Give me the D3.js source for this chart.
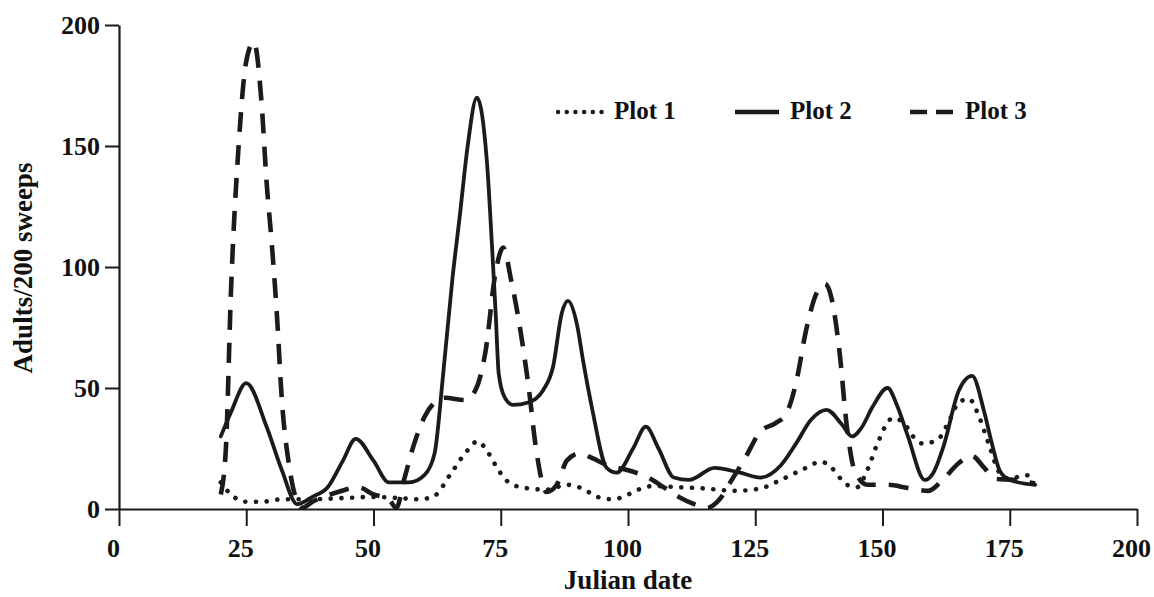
<!DOCTYPE html>
<html>
<head>
<meta charset="utf-8">
<script src="https://cdn.jsdelivr.net/npm/d3@7"></script>
<style>
  html, body { margin: 0; padding: 0; background: #fff; }
  svg { display: block; }
  text { font-family: "Liberation Serif", "Times New Roman", serif; font-weight: bold; fill: #111; }
</style>
</head>
<body>
<svg id="chart" width="1154" height="597"></svg>
<script>
// Sweep-net counts of adults per 200 sweeps, by Julian date, for three plots
const plot1Days   = [20, 22, 25, 28, 32, 36, 44, 50, 55, 59, 62, 65, 68, 70.5, 72, 74, 76, 79, 84, 88, 91, 94, 97, 99, 102, 105, 110, 115, 121, 126, 130, 134, 138, 140, 143, 145, 147, 149, 152, 154, 156, 158, 161, 163, 165, 167, 169, 171, 173, 175, 178, 180];
const plot1Values = [11, 6, 3, 3, 4, 4, 4.5, 5, 4.5, 4, 5.5, 14, 23, 28, 25, 18, 12, 9, 8, 10, 8.5, 5, 4, 5, 8, 9.5, 9, 8.5, 7.5, 8.5, 12, 16, 19.5, 17, 10, 9, 16, 27, 37.5, 36, 30, 27, 29, 36, 44, 45.5, 38, 26, 15, 12.5, 14, 13];

const plot2Days   = [20, 22, 25, 29, 32, 35, 38, 41, 44, 46.5, 50, 53, 57, 60, 62, 63.7, 65.5, 67, 68.5, 70.3, 72.3, 73.3, 74, 74.6, 75.8, 77.4, 80.4, 83.3, 85.3, 87, 88.2, 90, 91.2, 93, 95.8, 97.8, 101, 103.5, 106, 109, 112, 117, 122, 126, 130, 133, 136, 139, 142, 144, 146, 148, 151, 153, 155, 158.3, 160, 162, 165, 167.6, 170, 171.5, 173, 175, 180];
const plot2Values = [30, 40, 52, 34, 16, 2, 5, 9, 20, 29, 20, 11, 11, 14, 23, 56, 95, 122, 150, 170, 143, 108, 81, 56, 46, 43, 44, 49, 59, 81, 86, 76, 61, 41, 17, 15, 25, 34, 25, 13, 12, 17, 15, 13, 18, 27, 37, 41, 35, 30, 34, 42, 50, 42, 30, 12, 15, 26, 49, 55, 40, 27, 16, 12, 10];

const plot3Days   = [20, 21, 22, 23.5, 25, 26.5, 28, 29, 30, 31, 32, 33.5, 35, 36, 38, 43, 47, 50, 53, 54.5, 56, 58, 60, 62, 64, 68, 70, 72, 74, 75.5, 77, 79, 80.5, 82, 84, 86, 88, 90.5, 93, 96, 100, 104, 107, 110, 113, 115.5, 118, 120, 123, 126, 129, 131, 133, 135, 137, 138.7, 140, 141.5, 143, 144.5, 147, 151, 155, 159, 162, 165, 167.5, 170, 172, 176, 180];
const plot3Values = [6, 25, 90, 150, 185, 193, 168, 135, 110, 81, 45, 17, 3, 0.5, 3, 7, 9, 6, 4, 0.5, 12, 27, 38, 44, 46, 45, 49, 65, 98, 108, 95, 72, 50, 24, 7, 10, 20, 23, 21, 18, 16, 13, 9, 5, 2, 0.5, 4, 10.7, 21, 32, 35.5, 39, 52, 74, 89, 93, 87, 66, 34, 16, 10, 10, 8.7, 7.5, 12.5, 19, 22, 17, 12.5, 12, 10.5];

const xTicks = [0, 25, 50, 75, 100, 125, 150, 175, 200];
const yTicks = [0, 50, 100, 150, 200];
const seriesNames = ["Plot 1", "Plot 2", "Plot 3"];

const ink = "#1b1b1b";
const styles = [
  { width: 4.6, dash: "0.1 10.6", cap: "round" },   // dotted
  { width: 3.8, dash: null,       cap: "round" },   // solid
  { width: 4.6, dash: "20 13",    cap: "butt"  }    // dashed
];

const svg = d3.select("#chart");

const x = d3.scaleLinear().domain([0, 200]).range([119, 1137]);
const y = d3.scaleLinear().domain([0, 200]).range([509, 25]);

// axes
const xAxis = svg.append("g")
  .attr("transform", `translate(0,${y(0)})`)
  .call(d3.axisBottom(x).tickValues(xTicks).tickSize(17).tickSizeOuter(0).tickPadding(13).tickFormat(d3.format("d")));
const yAxis = svg.append("g")
  .attr("transform", `translate(${x(0)},0)`)
  .call(d3.axisLeft(y).tickValues(yTicks).tickSize(14).tickSizeOuter(0).tickPadding(5).tickFormat(d3.format("d")));

[xAxis, yAxis].forEach(g => {
  g.attr("font-family", null).attr("font-size", null);
  g.select(".domain").attr("stroke", ink).attr("stroke-width", 2.2);
  g.selectAll(".tick line").attr("stroke", ink).attr("stroke-width", 2);
  g.selectAll(".tick text").attr("fill", "#111");
});
xAxis.selectAll(".tick text").style("font-size", "26px").attr("dx", -6);
yAxis.selectAll(".tick text").style("font-size", "26px");

// axis titles
svg.append("text")
  .attr("x", 628).attr("y", 589)
  .attr("text-anchor", "middle")
  .style("font-size", "27px")
  .text("Julian date");

svg.append("text")
  .attr("transform", "translate(32,268) rotate(-90)")
  .attr("text-anchor", "middle")
  .style("font-size", "27px")
  .text("Adults/200 sweeps");

// series
const series = [
  d3.zip(plot1Days, plot1Values),
  d3.zip(plot2Days, plot2Values),
  d3.zip(plot3Days, plot3Values)
];

const line = d3.line()
  .x(d => x(d[0]))
  .y(d => y(d[1]))
  .curve(d3.curveMonotoneX);

series.forEach((pts, i) => {
  const s = styles[i];
  svg.append("path")
    .datum(pts)
    .attr("fill", "none")
    .attr("stroke", ink)
    .attr("stroke-width", s.width)
    .attr("stroke-linecap", s.cap)
    .attr("stroke-linejoin", "round")
    .attr("stroke-dasharray", s.dash)
    .attr("d", line);
});

// legend
const legendItems = [
  { x1: 558, x2: 602, tx: 614, dash: "0.1 8.6", width: 4.4, cap: "round" },
  { x1: 735, x2: 779, tx: 790, dash: null,      width: 4.6, cap: "butt"  },
  { x1: 910, x2: 955, tx: 965, dash: "17 9",    width: 4.6, cap: "butt"  }
];
const legendY = 112;
const legend = svg.append("g");
legendItems.forEach((it, i) => {
  legend.append("line")
    .attr("x1", it.x1).attr("x2", it.x2)
    .attr("y1", legendY).attr("y2", legendY)
    .attr("stroke", ink)
    .attr("stroke-width", it.width)
    .attr("stroke-linecap", it.cap)
    .attr("stroke-dasharray", it.dash);
  legend.append("text")
    .attr("x", it.tx).attr("y", legendY + 7)
    .style("font-size", "25px")
    .text(seriesNames[i]);
});
</script>
</body>
</html>
